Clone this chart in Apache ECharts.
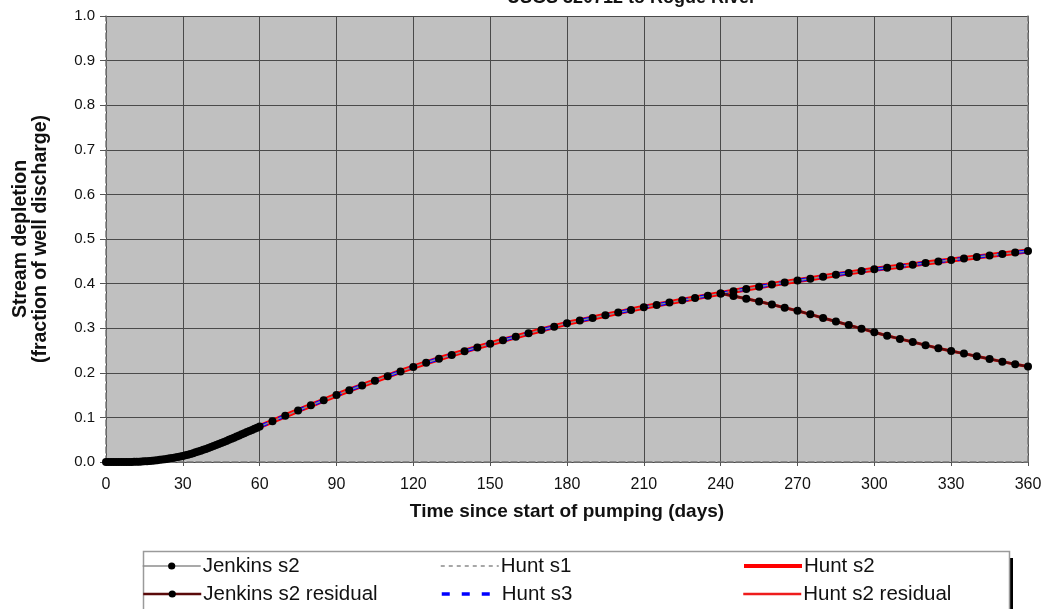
<!DOCTYPE html>
<html>
<head>
<meta charset="utf-8">
<script src="https://cdn.jsdelivr.net/npm/echarts@6/dist/echarts.min.js"></script>
<style>
html,body{margin:0;padding:0;background:#fff;}
#chart{width:1045px;height:609px;}
</style>
</head>
<body>
<div id="chart"></div>
<script>
// ---- data ----
const chartTitle = 'USGS 320712 to Rogue River';
const xTitle = 'Time since start of pumping (days)';
const yTitle = 'Stream depletion\n(fraction of well discharge)';
const xTicks = [0,30,60,90,120,150,180,210,240,270,300,330,360];
const yTicks = [0,0.1,0.2,0.3,0.4,0.5,0.6,0.7,0.8,0.9,1.0];

const jenkinsDays = [0,1,2,3,4,5,6,7,8,9,10,11,12,13,14,15,16,17,18,19,20,21,22,23,24,25,26,27,28,29,30,
  31,32,33,34,35,36,37,38,39,40,41,42,43,44,45,46,47,48,49,50,51,52,53,54,55,56,57,58,59,60,
  65,70,75,80,85,90,95,100,105,110,115,120,125,130,135,140,145,150,155,160,165,170,175,180,
  185,190,195,200,205,210,215,220,225,230,235,240,245,250,255,260,265,270,275,280,285,290,295,300,
  305,310,315,320,325,330,335,340,345,350,355,360];
const jenkinsS2 = [0,0,0,0,0,0,0,0,0,0,0.0001,0.0003,0.0005,0.0008,0.0011,0.0015,0.0019,0.0024,0.0029,0.0035,
  0.0041,0.0048,0.0056,0.0064,0.0073,0.0082,0.0092,0.0102,0.0113,0.0124,0.0136,0.0150,0.0165,0.0181,0.0198,
  0.0216,0.0235,0.0254,0.0274,0.0294,0.0315,0.0336,0.0358,0.0380,0.0403,0.0426,0.0449,0.0473,0.0497,0.0521,
  0.0545,0.0570,0.0595,0.0620,0.0645,0.0670,0.0695,0.0720,0.0745,0.0770,0.0795,
  0.0915,0.1035,0.1155,0.127,0.1385,0.150,0.161,0.1715,0.182,0.1925,0.203,0.213,0.2225,0.2315,0.240,
  0.2485,0.257,0.265,0.273,0.2807,0.2885,0.296,0.3035,0.311,0.317,0.323,0.329,0.335,0.341,0.347,
  0.3522,0.3574,0.3626,0.3678,0.373,0.378,0.383,0.388,0.393,0.398,0.4025,0.407,0.411,0.4155,0.42,
  0.424,0.428,0.432,0.4355,0.439,0.4425,0.446,0.4495,0.453,0.4565,0.4597,0.463,0.4663,0.4697,0.473];

const residualDays = [240,245,250,255,260,265,270,275,280,285,290,295,300,305,310,315,320,325,330,335,340,345,350,355,360];
const jenkinsS2Residual = [0.378,0.372,0.366,0.360,0.353,0.346,0.339,0.331,0.323,0.315,0.307,0.299,0.291,
  0.283,0.276,0.269,0.262,0.255,0.249,0.243,0.237,0.231,0.225,0.219,0.214];

const huntDays = [0,5,10,15,20,25,30,35,40,45,50,55,60,65,70,75,80,85,90,95,100,105,110,115,120,125,130,135,
  140,145,150,155,160,165,170,175,180,185,190,195,200,205,210,215,220,225,230,235,240,245,250,255,260,265,
  270,275,280,285,290,295,300,305,310,315,320,325,330,335,340,345,350,355,360];
const huntS2 = [0,0,0.0001,0.0015,0.0041,0.0082,0.0136,0.0216,0.0315,0.0426,0.0545,0.0670,0.0795,
  0.0915,0.1035,0.1155,0.127,0.1385,0.150,0.161,0.1715,0.182,0.1925,0.203,0.213,0.2225,0.2315,0.240,
  0.2485,0.257,0.265,0.273,0.2807,0.2885,0.296,0.3035,0.311,0.317,0.323,0.329,0.335,0.341,0.347,
  0.3522,0.3574,0.3626,0.3678,0.373,0.378,0.383,0.388,0.393,0.398,0.4025,0.407,0.411,0.4155,0.42,
  0.424,0.428,0.432,0.4355,0.439,0.4425,0.446,0.4495,0.453,0.4565,0.4597,0.463,0.4663,0.4697,0.473];
const huntS1 = huntS2;
const huntS3 = huntS2;
const huntS2Residual = [0.378,0.372,0.366,0.360,0.353,0.346,0.339,0.331,0.323,0.315,0.307,0.299,0.291,
  0.283,0.276,0.269,0.262,0.255,0.249,0.243,0.237,0.231,0.225,0.219,0.214];

// ---- helpers ----
const pairs = (xs, ys) => xs.map((x, i) => [x, ys[i]]);
const FONT = "'Liberation Sans', Arial, sans-serif";

const chart = echarts.init(document.getElementById('chart'), null, {renderer: 'canvas'});

function legendAt(name, left, top, lineW, noSymbol) {
  const l = {
    data: [name], left: left, top: top, orient: 'horizontal', padding: 0,
    itemWidth: 58, itemHeight: 9, itemGap: 0, z: 10, selectedMode: false,
    lineStyle: {width: lineW},
    textStyle: {fontFamily: FONT, fontSize: 20.5, color: '#111', lineHeight: 22, padding: [0,0,0,-3]}
  };
  if (noSymbol) l.itemStyle = {opacity: 0};
  return l;
}

const option = {
  animation: false,
  backgroundColor: '#fff',
  title: {
    text: chartTitle, left: 502, top: -16,
    textStyle: {fontFamily: FONT, fontSize: 18, fontWeight: 'bold', color: '#111'}
  },
  grid: {left: 106, right: 17, top: 16, bottom: 147, show: true, backgroundColor: '#c0c0c0', borderWidth: 0},
  xAxis: {
    type: 'value', min: xTicks[0], max: xTicks[xTicks.length - 1], interval: 30,
    name: xTitle, nameLocation: 'middle', nameGap: 40,
    nameTextStyle: {fontFamily: FONT, fontSize: 19, fontWeight: 'bold', color: '#111'},
    axisLine: {show: true, lineStyle: {color: '#7a7a7a', width: 1.5, type: [6, 3]}},
    axisTick: {show: true, inside: false, length: 4, lineStyle: {color: '#555'}},
    axisLabel: {fontFamily: FONT, fontSize: 16, color: '#111', margin: 15},
    splitLine: {show: true, lineStyle: {color: '#4a4a4a', width: 1}}
  },
  yAxis: [{
    type: 'value', min: yTicks[0], max: yTicks[yTicks.length - 1], interval: 0.1,
    name: yTitle, nameLocation: 'middle', nameGap: 55, nameRotate: 90,
    nameTextStyle: {fontFamily: FONT, fontSize: 19.5, fontWeight: 'bold', color: '#111', lineHeight: 20},
    axisLine: {show: true, lineStyle: {color: '#7a7a7a', width: 1.5, type: [6, 3]}},
    axisTick: {show: true, inside: false, length: 6, lineStyle: {color: '#555'}},
    axisLabel: {fontFamily: FONT, fontSize: 15, color: '#111', margin: 11,
      formatter: v => v.toFixed(1)},
    splitLine: {show: true, lineStyle: {color: '#4a4a4a', width: 1}}
  }, {
    type: 'value', min: 0, max: 1, interval: 0.1, position: 'right',
    axisLine: {show: true, lineStyle: {color: '#7a7a7a', width: 1.5, type: [6, 3]}},
    axisTick: {show: false}, axisLabel: {show: false}, splitLine: {show: false}
  }],
  legend: [
    legendAt('Jenkins s2', 142, 555, 1.4),
    legendAt('Jenkins s2 residual', 142, 583, 2.5),
    legendAt('Hunt s1', 440, 555, 1.5, true),
    legendAt('Hunt s3', 440, 583, 3.5, true),
    legendAt('Hunt s2', 742, 555, 4, true),
    legendAt('Hunt s2 residual', 742, 583, 2.5, true)
  ],
  graphic: [
    {type: 'rect', z: 1, shape: {x: 1009, y: 558, width: 4, height: 60}, style: {fill: '#000'}},
    {type: 'rect', z: 2, shape: {x: 143.5, y: 551.5, width: 866, height: 70},
      style: {fill: '#fff', stroke: '#9a9a9a', lineWidth: 1.5}}
  ],
  series: [
    {name: 'Hunt s1', type: 'line', data: pairs(huntDays, huntS1), showSymbol: false, symbol: 'none',
      lineStyle: {color: '#8a8a8a', width: 1.5, type: [4, 4]}, itemStyle: {color: '#8a8a8a'}, z: 2},
    {name: 'Hunt s2', type: 'line', data: pairs(huntDays, huntS2), showSymbol: false, symbol: 'none',
      lineStyle: {color: '#ff0000', width: 5}, itemStyle: {color: '#ff0000'}, z: 3},
    {name: 'Hunt s3', type: 'line', data: pairs(huntDays, huntS3), showSymbol: false, symbol: 'none',
      lineStyle: {color: '#0000ff', width: 3.5, type: [8, 12]}, itemStyle: {color: '#0000ff'}, z: 4},
    {name: 'Hunt s2 residual', type: 'line', data: pairs(residualDays, huntS2Residual), showSymbol: false, symbol: 'none',
      lineStyle: {color: '#ee1c1c', width: 3}, itemStyle: {color: '#ee1c1c'}, z: 3},
    {name: 'Jenkins s2', type: 'line', data: pairs(jenkinsDays, jenkinsS2), symbol: 'circle', symbolSize: 8,
      showAllSymbol: true,
      lineStyle: {color: '#8c8c8c', width: 1.4}, itemStyle: {color: '#000'}, z: 5},
    {name: 'Jenkins s2 residual', type: 'line', data: pairs(residualDays, jenkinsS2Residual), symbol: 'circle', symbolSize: 8,
      lineStyle: {color: '#5a0a0a', width: 2.5}, itemStyle: {color: '#000'}, z: 5}
  ]
};
chart.setOption(option);
</script>
</body>
</html>
